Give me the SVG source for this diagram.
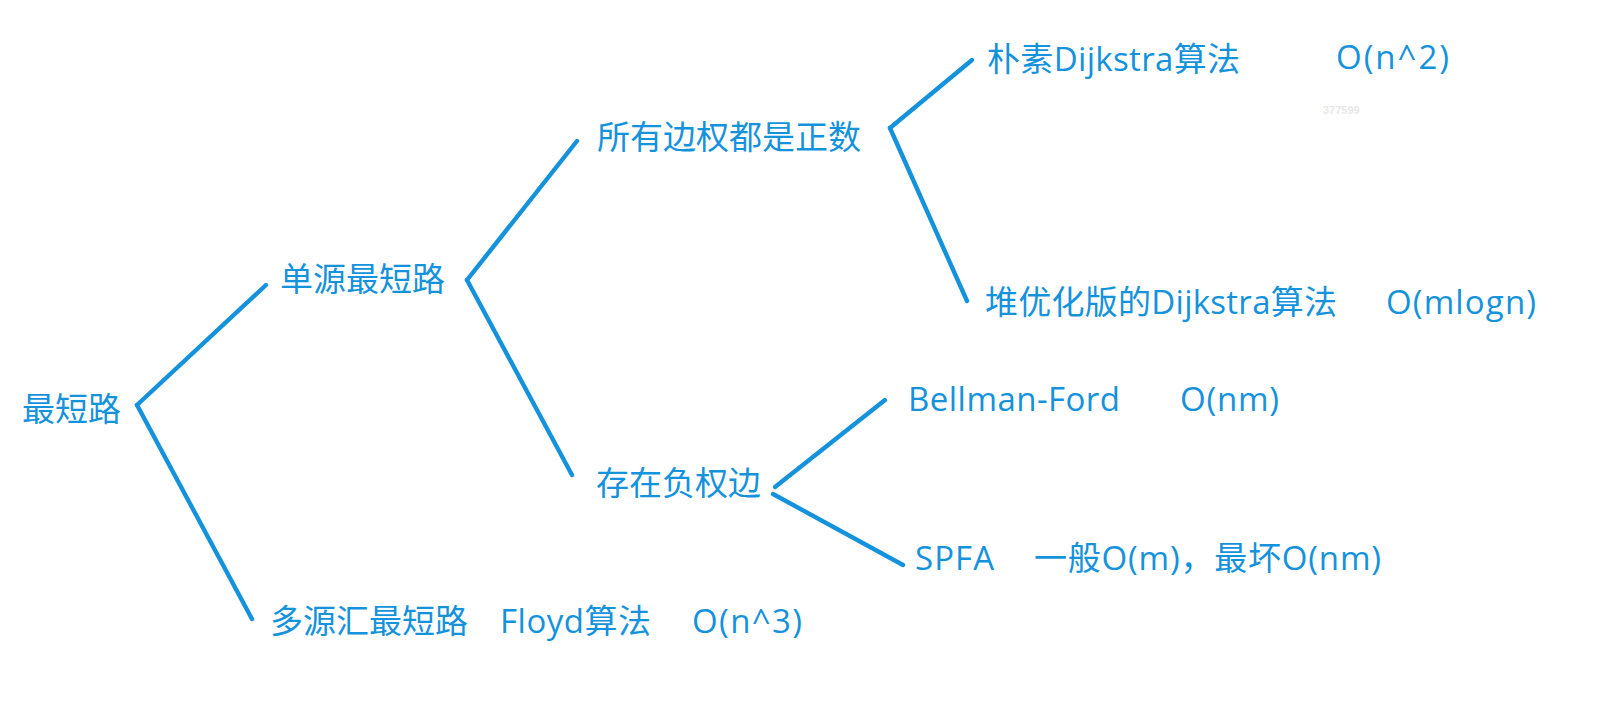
<svg xmlns="http://www.w3.org/2000/svg" width="1619" height="715" viewBox="0 0 1619 715">
<style>
.t{font-family:"Open Sans","Noto Sans CJK SC",sans-serif;font-size:33px;fill:#1592dc}
.w{font-family:"Liberation Sans",sans-serif;font-size:11px;font-weight:bold;fill:#e8e8e8}
.c line{stroke:#1592dc;stroke-width:4.4;stroke-linecap:round;fill:none}
</style>
<rect width="1619" height="715" fill="#ffffff"/>
<g id="connectors" class="c">
<line x1="137" y1="405" x2="266" y2="285"/>
<line x1="137" y1="405" x2="252" y2="619"/>
<line x1="467" y1="280" x2="577" y2="141"/>
<line x1="467" y1="280" x2="572" y2="475"/>
<line x1="890" y1="128" x2="972" y2="60"/>
<line x1="890" y1="128" x2="967" y2="301"/>
<line x1="775" y1="487" x2="885" y2="400"/>
<line x1="773" y1="494" x2="903" y2="565"/>
</g>
<g id="root"><text class="t" x="22" y="421">最短路</text></g>
<g id="single-source"><text class="t" x="280" y="291">单源最短路</text></g>
<g id="multi-source"><text class="t" x="270" y="633">多源汇最短路</text><text class="t" x="500" y="633" textLength="151">Floyd算法</text><text class="t" x="692" y="633" textLength="110">O(n^3)</text></g>
<g id="positive"><text class="t" x="597" y="149">所有边权都是正数</text></g>
<g id="negative"><text class="t" x="596" y="495">存在负权边</text></g>
<g id="naive-dijkstra"><text class="t" x="987" y="71" textLength="253">朴素Dijkstra算法</text><text class="t" x="1336" y="69" textLength="113">O(n^2)</text></g>
<g id="heap-dijkstra"><text class="t" x="985" y="314" textLength="352">堆优化版的Dijkstra算法</text><text class="t" x="1386" y="314" textLength="150">O(mlogn)</text></g>
<g id="bellman-ford"><text class="t" x="908" y="411" textLength="212">Bellman-Ford</text><text class="t" x="1180" y="411" textLength="99">O(nm)</text></g>
<g id="spfa"><text class="t" x="915" y="570" textLength="79">SPFA</text><text class="t" x="1034" y="570" textLength="347">一般O(m)，最坏O(nm)</text></g>
<text class="w" x="1323" y="114">377599</text>
</svg>
